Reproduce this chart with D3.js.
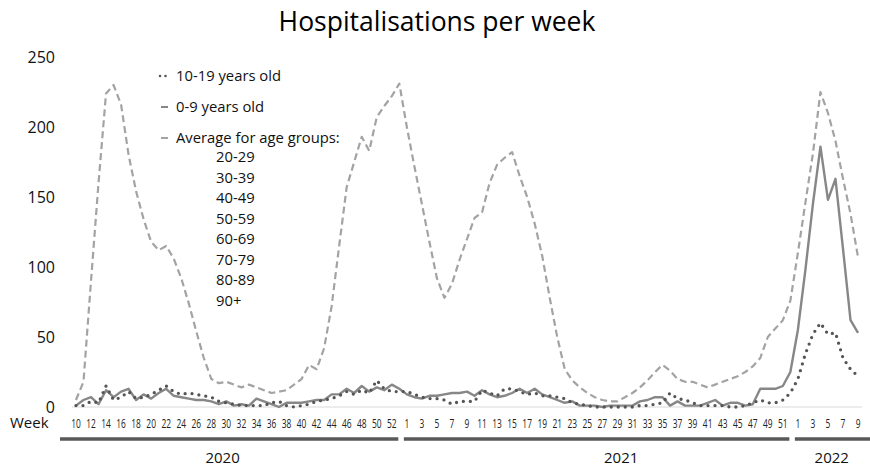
<!DOCTYPE html>
<html>
<head>
<meta charset="utf-8">
<script src="https://cdn.jsdelivr.net/npm/d3@7"></script>
<style>
  body { margin: 0; background: #fff; }
  svg { font-family: "Open Sans", "Liberation Sans", sans-serif; }
</style>
</head>
<body>
<script>
var w = 870, h = 466;

// week ranges per year (2020 has an ISO week 53)
var years = [2020, 2021, 2022];
var firstWeek = [10, 1, 1];
var lastWeek = [53, 52, 9];

// tick labels shown under the axis
var labels2020 = [10,12,14,16,18,20,22,24,26,28,30,32,34,36,38,40,42,44,46,48,50,52];
var labels2021 = [1,3,5,7,9,11,13,15,17,19,21,23,25,27,29,31,33,35,37,39,41,43,45,47,49,51];
var labels2022 = [1,3,5,7,9];

// average for age groups 20-29 ... 90+
var avgAdults = [
  5,18,90,160,224,230,216,180,154,134, 118,112,115,106,92,74,54,35,20,17,
  18,16,14,16,14,12,10,11,12,16, 20,30,27,42,72,115,157,175,193,183, 207,215,222,231,
  200,172,145,118,92,78,88,105,120,135, 139,160,173,178,182,165,150,131,108,78,
  50,27,19,14,10,7,5,4,4,7, 10,14,19,25,30,26,20,18,18,16,
  14,16,18,20,22,25,29,35,50,56, 62,76,
  110,146,181,225,210,190,163,138,107
];
// 0-9 years old
var age0to9 = [
  1,5,7,2,12,7,11,13,5,9, 6,10,13,8,7,6,5,5,4,2,
  4,1,2,1,6,4,2,0,3,3, 3,4,5,5,9,9,13,10,15,11, 14,12,16,13,
  9,7,6,8,8,9,10,10,11,8, 12,9,7,8,10,13,10,13,9,7,
  5,3,4,1,1,1,0,1,1,1, 1,4,5,7,7,1,4,1,1,1,
  3,5,1,3,3,1,2,13,13,13, 15,25,
  55,98,145,186,148,163,113,62,53
];
// 10-19 years old
var age10to19 = [
  1,1,4,3,15,5,7,11,6,7, 9,12,15,11,9,10,9,8,7,4,
  3,2,1,1,1,1,3,4,1,0, 1,2,4,5,6,8,11,9,12,10, 19,13,11,11,
  11,9,7,6,6,5,2,4,4,4, 12,10,8,13,13,11,9,10,8,8,
  7,6,3,2,1,0,0,0,0,0, 0,1,1,2,3,10,6,5,3,1,
  1,1,1,0,0,1,3,5,3,3, 5,10,
  20,38,52,60,52,53,35,27,22
];

var ageGroups = ["20-29","30-39","40-49","50-59","60-69","70-79","80-89","90+"];
var yTicks = [0, 50, 100, 150, 200, 250];

var keys = [];
years.forEach(function (yr, i) {
  for (var wk = firstWeek[i]; wk <= lastWeek[i]; wk++) keys.push(yr + "-" + wk);
});

var svg = d3.select("body").append("svg")
  .attr("width", w).attr("height", h);

var x = d3.scaleBand().domain(keys).range([72.2, 861.8]).padding(0);
var cx = function (k) { return x(k) + x.bandwidth() / 2; };
var y = d3.scaleLinear().domain([0, 250]).range([407, 57]);

// title
svg.append("text")
  .attr("x", 437).attr("y", 31)
  .attr("text-anchor", "middle")
  .style("font-size", "26.5px")
  .attr("fill", "#000")
  .text("Hospitalisations per week");

// y axis labels
var yAxis = svg.append("g")
  .attr("transform", "translate(72,0)")
  .call(d3.axisLeft(y).tickValues(yTicks).tickSize(0).tickPadding(17));
yAxis.select(".domain").remove();
yAxis.selectAll("text")
  .style("font-size", "16px")
  .style("font-family", "Open Sans, sans-serif")
  .attr("fill", "#111");

// baseline
svg.append("line")
  .attr("x1", 72).attr("x2", 862)
  .attr("y1", y(0)).attr("y2", y(0))
  .attr("stroke", "#d9d9d9").attr("stroke-width", 1.2);

// x tick labels
var labelKeys = []
  .concat(labels2020.map(function (d) { return "2020-" + d; }))
  .concat(labels2021.map(function (d) { return "2021-" + d; }))
  .concat(labels2022.map(function (d) { return "2022-" + d; }));

var xAxis = svg.append("g")
  .attr("transform", "translate(0," + y(0) + ")")
  .call(d3.axisBottom(x).tickValues(labelKeys).tickSize(0)
    .tickFormat(function (k) { return k.split("-")[1]; }));
xAxis.select(".domain").remove();
xAxis.selectAll("text")
  .attr("y", 21).attr("dy", 0)
  .style("font-size", "13px")
  .style("font-family", "Open Sans, sans-serif")
  .attr("fill", "#222")
  .attr("textLength", function (k) { return k.split("-")[1].length > 1 ? 9.6 : 4.8; })
  .attr("lengthAdjust", "spacingAndGlyphs");

svg.append("text")
  .attr("x", 10).attr("y", 428)
  .style("font-size", "15px")
  .attr("fill", "#111")
  .text("Week");

// year bars and labels
var yearLabelAt = ["2020-30", "2021-30", "2022-6"];
years.forEach(function (yr, i) {
  var k0 = yr + "-" + firstWeek[i], k1 = yr + "-" + lastWeek[i];
  var x0 = i === 0 ? 60 : cx(k0) - 3;
  var x1 = i === years.length - 1 ? w : cx(k1) - 1;
  svg.append("line")
    .attr("x1", x0).attr("x2", x1)
    .attr("y1", 439).attr("y2", 439)
    .attr("stroke", "#595959").attr("stroke-width", 3.5);
  svg.append("text")
    .attr("x", x(yearLabelAt[i])).attr("y", 463)
    .attr("text-anchor", "middle")
    .style("font-size", "15px")
    .attr("fill", "#111")
    .text(yr);
});

var line = d3.line()
  .x(function (d, i) { return cx(keys[i]); })
  .y(function (d) { return y(d); });

var styles = {
  avg:   { color: "#a3a3a3", width: 2.2, dash: "7,4", cap: "butt" },
  young: { color: "#878787", width: 2.4, dash: null, cap: "butt" },
  teen:  { color: "#555555", width: 3.3, dash: "0,7", cap: "round" }
};

function drawSeries(values, st) {
  svg.append("path")
    .datum(values)
    .attr("d", line)
    .attr("fill", "none")
    .attr("stroke", st.color)
    .attr("stroke-width", st.width)
    .attr("stroke-dasharray", st.dash)
    .attr("stroke-linecap", st.cap)
    .attr("stroke-linejoin", "round");
}
drawSeries(avgAdults, styles.avg);
drawSeries(age0to9, styles.young);
drawSeries(age10to19, styles.teen);

// legend
var legend = [
  { text: "10-19 years old", st: styles.teen, y: 81 },
  { text: "0-9 years old", st: styles.young, y: 112 },
  { text: "Average for age groups:", st: styles.avg, y: 143 }
];
legend.forEach(function (d) {
  svg.append("line")
    .attr("x1", d.st === styles.teen ? 160 : 161)
    .attr("x2", d.st === styles.teen ? 166 : 168)
    .attr("y1", d.y - 5).attr("y2", d.y - 5)
    .attr("stroke", d.st.color)
    .attr("stroke-width", d.st === styles.teen ? 2.6 : 2)
    .attr("stroke-dasharray", d.st === styles.teen ? "0,5.5" : null)
    .attr("stroke-linecap", d.st.cap);
  svg.append("text")
    .attr("x", 176).attr("y", d.y)
    .style("font-size", "14.8px")
    .attr("fill", "#111")
    .text(d.text);
});
svg.selectAll(".agegroup")
  .data(ageGroups)
  .enter().append("text")
  .attr("class", "agegroup")
  .attr("x", 216)
  .attr("y", function (d, i) { return 162 + i * 20.5; })
  .style("font-size", "14.8px")
  .attr("fill", "#111")
  .text(function (d) { return d; });
</script>
</body>
</html>
